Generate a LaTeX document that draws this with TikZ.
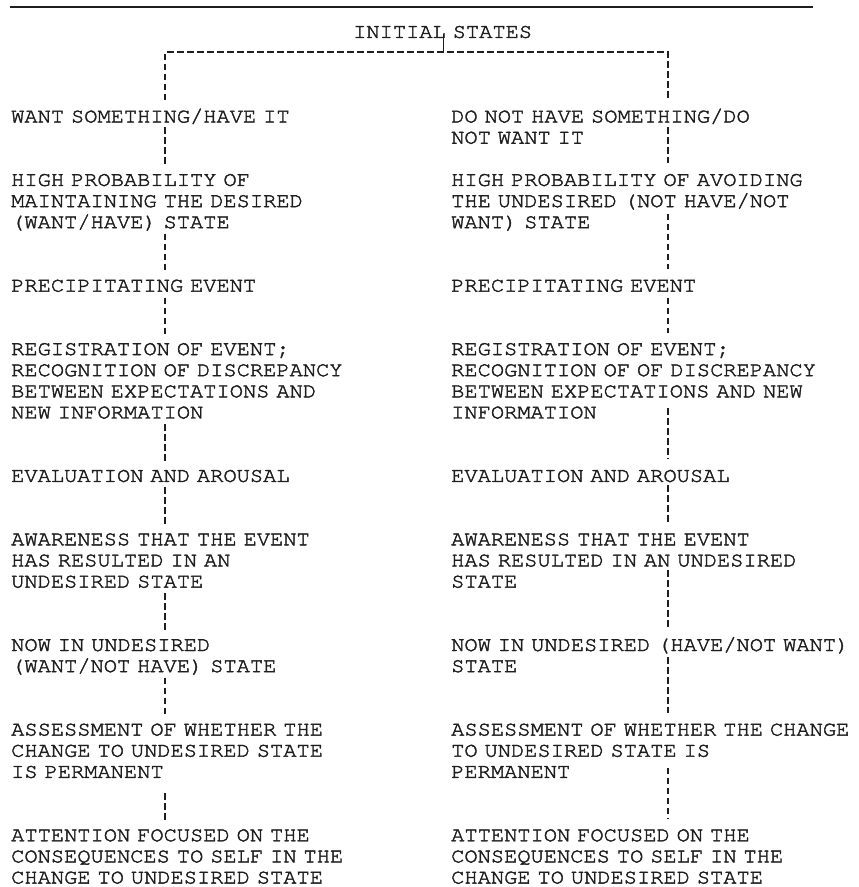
\documentclass[tikz,border=0pt]{standalone}
\usepackage{fontspec}
\newfontfamily\tw[FakeBold=2,FakeStretch=1.06]{TeX Gyre Cursor}
\definecolor{ink}{RGB}{30,30,30}
\begin{document}
\begin{tikzpicture}[x=1pt,y=-1pt,
  txt/.style={anchor=base west, inner sep=0pt, align=left, text width=440pt,
    text=ink, font=\tw\fontsize{20.8}{21.14}\selectfont},
  dsh/.style={draw=ink, line width=1.2pt, dash pattern=on 6.5pt off 3.5pt},
  tick/.style={draw=ink, line width=0.8pt}]
\useasboundingbox (0,0) rectangle (859,887);
% top rule
\draw[ink, line width=1.3pt] (10,7) -- (813,7);
% column lines
\coordinate (lx) at (165,0);
\coordinate (rx) at (668,0);
\coordinate (split) at (443,52);
% texts
\node[txt] (init) at (353,37.9) {INITIAL STATES};
\node[txt] (L1) at (11,122.5) {WANT SOMETHING/HAVE IT};
\node[txt] (L2) at (11,185.92) {HIGH PROBABILITY OF\\MAINTAINING THE DESIRED\\(WANT/HAVE) STATE};
\node[txt] (L3) at (11,291.62) {PRECIPITATING EVENT};
\node[txt] (L4) at (11,355.04) {REGISTRATION OF EVENT;\\RECOGNITION OF DISCREPANCY\\BETWEEN EXPECTATIONS AND\\NEW INFORMATION};
\node[txt] (L5) at (11,481.88) {EVALUATION AND AROUSAL};
\node[txt] (L6) at (11,545.3) {AWARENESS THAT THE EVENT\\HAS RESULTED IN AN\\UNDESIRED STATE};
\node[txt] (L7) at (11,651.0) {NOW IN UNDESIRED\\(WANT/NOT HAVE) STATE};
\node[txt] (L8) at (11,735.56) {ASSESSMENT OF WHETHER THE\\CHANGE TO UNDESIRED STATE\\IS PERMANENT};
\node[txt] (L9) at (11,841.26) {ATTENTION FOCUSED ON THE\\CONSEQUENCES TO SELF IN THE\\CHANGE TO UNDESIRED STATE};
\node[txt] (R1) at (451,122.5) {DO NOT HAVE SOMETHING/DO\\NOT WANT IT};
\node[txt] (R2) at (451,185.92) {HIGH PROBABILITY OF AVOIDING\\THE UNDESIRED (NOT HAVE/NOT\\WANT) STATE};
\node[txt] (R3) at (451,291.62) {PRECIPITATING EVENT};
\node[txt] (R4) at (451,355.04) {REGISTRATION OF EVENT;\\RECOGNITION OF OF DISCREPANCY\\BETWEEN EXPECTATIONS AND NEW\\INFORMATION};
\node[txt] (R5) at (451,481.88) {EVALUATION AND AROUSAL};
\node[txt] (R6) at (451,545.3) {AWARENESS THAT THE EVENT\\HAS RESULTED IN AN UNDESIRED\\STATE};
\node[txt] (R7) at (451,651.0) {NOW IN UNDESIRED (HAVE/NOT WANT)\\STATE};
\node[txt] (R8) at (451,735.56) {ASSESSMENT OF WHETHER THE CHANGE\\TO UNDESIRED STATE IS\\PERMANENT};
\node[txt] (R9) at (451,841.26) {ATTENTION FOCUSED ON THE\\CONSEQUENCES TO SELF IN THE\\CHANGE TO UNDESIRED STATE};
% split from initial states
\draw[tick] ([yshift=4pt]init.base -| split) -- (split);
\draw[dsh] ([yshift=22.5pt]L1.base -| lx) -- (split -| lx) -- (split -| rx) -- ([yshift=22.5pt]R1.base -| rx);
% left chain
\draw[dsh] ([yshift=-4.5pt]L1.base -| lx) -- ([yshift=21pt]L2.base -| lx);
\draw[dsh] ([yshift=-47.8pt]L2.base -| lx) -- ([yshift=21pt]L3.base -| lx);
\draw[dsh] ([yshift=-6pt]L3.base -| lx) -- ([yshift=21pt]L4.base -| lx);
\draw[dsh] ([yshift=-69.4pt]L4.base -| lx) -- ([yshift=21pt]L5.base -| lx);
\draw[dsh] ([yshift=-5.5pt]L5.base -| lx) -- ([yshift=21pt]L6.base -| lx);
\draw[dsh] ([yshift=-47.8pt]L6.base -| lx) -- ([yshift=21pt]L7.base -| lx);
\draw[dsh] ([yshift=-26.6pt]L7.base -| lx) -- ([yshift=21pt]L8.base -| lx);
\draw[dsh] ([yshift=-57.8pt]L8.base -| lx) -- ([yshift=21pt]L9.base -| lx);
% right chain
\draw[dsh] ([yshift=-4.5pt]R1.base -| rx) -- ([yshift=22.5pt]R2.base -| rx);
\draw[dsh] ([yshift=-27.6pt]R2.base -| rx) -- ([yshift=22.5pt]R3.base -| rx);
\draw[dsh] ([yshift=-6pt]R3.base -| rx) -- ([yshift=22.5pt]R4.base -| rx);
\draw[dsh] ([yshift=-53pt]R4.base -| rx) -- ([yshift=22.5pt]R5.base -| rx);
\draw[dsh] ([yshift=-3.5pt]R5.base -| rx) -- ([yshift=22.5pt]R6.base -| rx);
\draw[dsh] ([yshift=-24.7pt]R6.base -| rx) -- ([yshift=22.5pt]R7.base -| rx);
\draw[dsh] ([yshift=-6pt]R7.base -| rx) -- ([yshift=22.5pt]R8.base -| rx);
\draw[dsh] ([yshift=-32.4pt]R8.base -| rx) -- ([yshift=22.5pt]R9.base -| rx);
\end{tikzpicture}
\end{document}
